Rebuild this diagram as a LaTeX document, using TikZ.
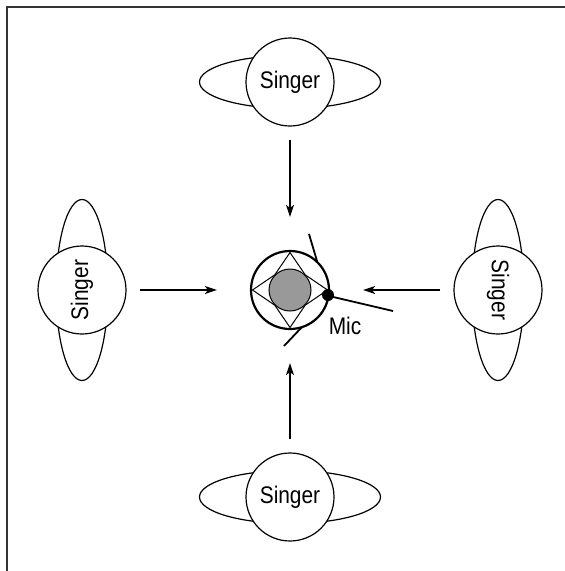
\documentclass[tikz,border=0pt]{standalone}
\usepackage{fontspec}
\setmainfont[FakeStretch=0.87]{Liberation Sans}
\usetikzlibrary{arrows.meta,shapes.geometric}
\begin{document}
\begin{tikzpicture}[x=1pt,y=-1pt,
  singer/.style={circle,draw,fill=white,line width=1.2pt,minimum size=88pt,inner sep=0pt,font=\fontsize{24}{24}\selectfont},
  wing/.style={ellipse,draw,line width=1.2pt,inner sep=0pt},
  hwing/.style={wing,minimum width=181pt,minimum height=53pt},
  vwing/.style={wing,minimum width=52pt,minimum height=181pt},
  push/.style={line width=1.2pt,-{Stealth[length=12pt,width=8pt,inset=3pt]}},
  stand/.style={line width=1.8pt},
  lbl/.style={font=\fontsize{24}{24}\selectfont,inner sep=0pt}
]
\useasboundingbox (0,0) rectangle (565,571);
\draw[line width=2pt,black!80] (6.5,571) -- (6.5,6.5) -- (565,6.5);

% wings
\node[hwing] (topw) at (290,82) {};
\node[hwing] (botw) at (290,497) {};
\node[vwing] (leftw) at (82,290) {};
\node[vwing] (rightw) at (498,290) {};

% singers
\node[singer] (top) at (290,82) {Singer};
\node[singer] (bot) at (290,497) {Singer};
\node[singer,rotate=90] (left) at (82,290) {Singer};
\node[singer,rotate=-90] (right) at (498,290) {Singer};

% mic
\node[circle,draw,line width=2.2pt,minimum size=78pt,inner sep=0pt] (mic) at (290,290) {};
\begin{scope}[shift={(mic.center)}]
  \draw[line width=1pt,fill=black!40] (0,0) circle[radius=21];
  \draw[line width=1pt,line join=miter] (0,-37.5) -- (-15.2,-15.2) -- (-37.5,0) -- (-15.2,15.2) -- (0,37.5) -- (15.2,15.2) -- (37.5,0) -- (15.2,-15.2) -- cycle;
  \coordinate (s1a) at (27,-29); \coordinate (s1b) at (19,-56);
  \coordinate (s2a) at (12,37);  \coordinate (s2b) at (-6,56);
  \coordinate (s3a) at (39,6);   \coordinate (s3b) at (103,21);
  \draw[stand] (s1a) -- (s1b);
  \draw[stand] (s2a) -- (s2b);
  \draw[stand] (s3a) -- (s3b);
  \fill (38,5) circle[radius=6];
\end{scope}
\node[lbl] (miclabel) at (345,326) {Mic};

% arrows
\draw[push,shorten <=13pt,shorten >=33pt] (top) -- (mic);
\draw[push,shorten <=13pt,shorten >=33pt] (bot) -- (mic);
\draw[push,shorten <=13pt,shorten >=33pt] (left) -- (mic);
\draw[push,shorten <=13pt,shorten >=33pt] (right) -- (mic);
\end{tikzpicture}
\end{document}
